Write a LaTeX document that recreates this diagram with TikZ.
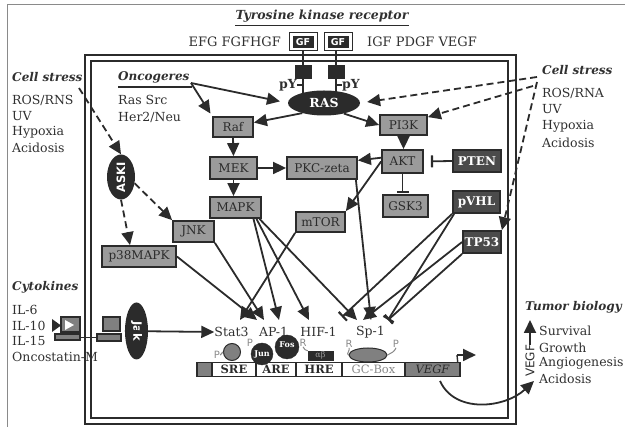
\documentclass[tikz,border=0pt]{standalone}
\usepackage{fontspec}
\setmainfont{DejaVu Serif}
\setsansfont{DejaVu Sans}
\usetikzlibrary{arrows.meta,shapes.geometric}
\definecolor{dk}{HTML}{2B2B2B}
\definecolor{lg}{HTML}{9B9B9B}
\definecolor{mg}{HTML}{808080}
\definecolor{tx}{HTML}{303030}
\definecolor{gt}{HTML}{8A8A8A}
\begin{document}
\begin{tikzpicture}[x=1pt,y=-1pt,
  every node/.style={inner sep=0pt,text=tx},
  lbox/.style={draw=dk,line width=1.8pt,fill=lg,font=\fontsize{12}{12}\selectfont,text=dk},
  dbox/.style={draw=dk,line width=1.8pt,fill=dk!85,font=\bfseries\fontsize{12}{12}\selectfont,text=white},
  arr/.style={draw=dk,line width=1.8pt,-{Triangle[length=13pt,width=12pt]}},
  darr/.style={arr,dash pattern=on 7pt off 4pt},
  inh/.style={draw=dk,line width=1.8pt,-{Bar[width=12pt,line width=2.2pt]}},
  hd/.style={font=\bfseries\itshape\fontsize{12}{12}\selectfont,anchor=west},
  lab/.style={font=\fontsize{12.5}{12.5}\selectfont,anchor=west},
  tf/.style={font=\fontsize{12.5}{12.5}\selectfont},
  pr/.style={font=\sffamily\fontsize{10}{10}\selectfont,text=gt},
  seg/.style={draw=dk,line width=1.4pt,minimum height=14pt,font=\bfseries\fontsize{11.5}{11.5}\selectfont,text=dk},
  blob/.style={fill=dk,draw=dk},
]
\useasboundingbox (0,0) rectangle (625,427);
% outer border
\draw[gt,line width=0.8pt] (7,427) -- (7,4) -- (625,4);
% double frame
\draw[dk,line width=1.8pt] (85,55) rectangle (516,424);
\draw[dk,line width=1.8pt] (91,61) rectangle (508,418);

% title
\node[font=\bfseries\itshape\fontsize{12.5}{12.5}\selectfont] (title) at (322,16) {Tyrosine kinase receptor};
\draw[dk,line width=1.2pt] (title.south west) ++(0,3) -- ([yshift=-3pt]title.south east);
\node[lab,font=\fontsize{13}{13}\selectfont,anchor=east] (gfl) at (281,42) {EFG FGFHGF};
\node[lab,font=\fontsize{13}{13}\selectfont] (gfr) at (367,42) {IGF PDGF VEGF};

% GF receptors
\node[draw=dk,line width=1pt,minimum width=28pt,minimum height=18pt] (gf1o) at (303,42) {};
\node[fill=dk,minimum width=21pt,minimum height=12pt,font=\sffamily\bfseries\fontsize{9.5}{9.5}\selectfont,text=white] (gf1) at (303,42) {GF};
\node[draw=dk,line width=1pt,minimum width=28pt,minimum height=18pt] (gf2o) at (338,42) {};
\node[fill=dk,minimum width=21pt,minimum height=12pt,font=\sffamily\bfseries\fontsize{9.5}{9.5}\selectfont,text=white] (gf2) at (338,42) {GF};
\node[fill=dk,minimum width=17pt,minimum height=14pt] (rec1) at (303,72) {};
\node[fill=dk,minimum width=17pt,minimum height=14pt] (rec2) at (336,72) {};
\draw[dk,line width=1.8pt] (gf1o.south) -- (gf1o.south |- rec1.north);
\draw[dk,line width=1.8pt] (gf2o.south -| rec2.north) -- (rec2.north);

% RAS
\node[ellipse,fill=dk,minimum width=72pt,minimum height=25pt,font=\bfseries\fontsize{12.5}{12.5}\selectfont,text=white] (ras) at (324,103) {RAS};
\coordinate (r1b) at (303,93);
\coordinate (r2b) at (336,92);
\draw[dk,line width=1.8pt] (rec1.south) -- (r1b);
\draw[dk,line width=1.8pt] (rec2.south) -- (r2b);
\draw[dk,line width=1.6pt] (297,85) -- (303,85);
\draw[dk,line width=1.6pt] (336,85) -- (342,85);
\node[font=\bfseries\fontsize{12.5}{12.5}\selectfont,anchor=east] (py1) at (297,85) {pY};
\node[font=\bfseries\fontsize{12.5}{12.5}\selectfont,anchor=west] (py2) at (342,85) {pY};

% Oncogenes
\node[hd] (onc) at (118,77) {Oncogeres};
\draw[dk,line width=1.8pt] (118,87) -- (192,87);
\node[lab] (onc1) at (118,100) {Ras Src};
\node[lab] (onc2) at (118,117) {Her2/Neu};
\coordinate (oncs) at (191,83);

% left cell stress
\node[hd] (csl) at (12,77) {Cell stress};
\node[lab] (csl1) at (12,100) {ROS/RNS};
\node[lab] (csl2) at (12,116) {UV};
\node[lab] (csl3) at (12,132) {Hypoxia};
\node[lab] (csl4) at (12,148) {Acidosis};
\coordinate (csls) at (79,88);

% right cell stress
\node[hd] (csr) at (542,70) {Cell stress};
\node[lab] (csr1) at (542,93) {ROS/RNA};
\node[lab] (csr2) at (542,109) {UV};
\node[lab] (csr3) at (542,126) {Hypoxia};
\node[lab] (csr4) at (542,143) {Acidosis};
\coordinate (crs1) at (537,77);
\coordinate (crs2) at (533,86);
\coordinate (crs3) at (537,82);

% boxes
\node[lbox,minimum width=40pt,minimum height=20pt] (raf) at (233,127) {Raf};
\node[lbox,minimum width=47pt,minimum height=22pt] (mek) at (233.5,168) {MEK};
\node[lbox,minimum width=70pt,minimum height=22pt] (pkc) at (322,168) {PKC-zeta};
\node[lbox,minimum width=51pt,minimum height=21pt] (mapk) at (235.5,207.5) {MAPK};
\node[lbox,minimum width=49pt,minimum height=20pt] (mtor) at (320.5,222) {mTOR};
\node[lbox,minimum width=41pt,minimum height=21pt] (jnk) at (193.5,231.5) {JNK};
\node[lbox,minimum width=74pt,minimum height=21pt] (p38) at (139,256.5) {p38MAPK};
\node[lbox,minimum width=47pt,minimum height=20pt] (pi3k) at (403.5,125) {PI3K};
\node[lbox,minimum width=41pt,minimum height=23pt] (akt) at (402.5,161.5) {AKT};
\node[lbox,minimum width=45pt,minimum height=22pt] (gsk3) at (405.5,206) {GSK3};
\node[dbox,minimum width=48pt,minimum height=22pt] (pten) at (477,161) {PTEN};
\node[dbox,minimum width=47pt,minimum height=22pt] (pvhl) at (476.5,202) {pVHL};
\node[dbox,minimum width=38pt,minimum height=22pt] (tp53) at (482,242) {TP53};

% ellipses
\node[ellipse,fill=dk,rotate=90,minimum width=45pt,minimum height=28pt,font=\sffamily\bfseries\fontsize{11.5}{11.5}\selectfont,text=white] (aski) at (121,177) {ASKI};
\node[ellipse,fill=dk,rotate=-90,minimum width=57pt,minimum height=23pt,font=\sffamily\bfseries\fontsize{11.5}{11.5}\selectfont,text=white] (jak) at (136.5,331) {Jak};

% connectors upper part
\draw[arr,shorten >=8pt] (oncs) -- (ras.west);
\draw[arr,shorten >=3pt] (oncs) -- (raf.north west);
\draw[arr] (ras.205) -- (raf.12);
\draw[arr] (ras.-28) -- (pi3k.west);
\draw[arr] (raf.south) -- (mek.north);
\draw[arr] (mek.south) -- (mek.south |- mapk.north);
\draw[arr] (mek.east) -- (pkc.west);
\draw[arr] (pi3k.south) -- (pi3k.south |- akt.north);
\draw[arr] (akt.170) -- (pkc.12);
\draw[arr] (akt.west) -- (mtor.north east);
\draw[inh,shorten >=7pt] (pten.west) -- (akt.east);
\draw[inh,shorten >=1pt] (akt.south) -- (akt.south |- gsk3.north);

% dashed stress arrows
\draw[darr] (csls) -- (aski.east);
\draw[darr] (aski.-115) -- (jnk.north west);
\draw[darr] (aski.west) -- ([xshift=-9pt]p38.north);
\draw[darr,shorten >=7pt] (crs1) -- (ras.east);
\draw[darr] (crs2) -- (pi3k.18);
\draw[darr] (crs3) -- (tp53.north east);

% transcription factors
\node[tf] (stat3) at (231.5,332) {Stat3};
\node[tf] (ap1) at (273.5,332) {AP-1};
\node[tf] (hif1) at (318.5,332) {HIF-1};
\node[tf] (sp1) at (370.5,332) {Sp-1};
\coordinate (tstat) at (240,320);
\coordinate (tap1a) at (257,320);
\coordinate (tap1b) at (264,320);
\coordinate (tap1c) at (279,320);
\coordinate (thif) at (309,320);
\coordinate (tsp1a) at (357,320);
\coordinate (tsp1b) at (363,320);
\coordinate (tsp1c) at (371,320);
\coordinate (bhif) at (342,317);
\coordinate (bsp1) at (388,320);

\draw[arr] (p38.east) -- (tap1a);
\draw[arr] (jnk.south east) -- (tap1b);
\draw[arr] (mtor.south west) -- (tstat);
\draw[arr] ([xshift=18pt]mapk.south) -- (tap1c);
\draw[arr] ([xshift=21pt]mapk.south) -- (thif);
\draw[arr] ([xshift=24pt]mapk.south) -- (tsp1a);
\draw[arr] ([xshift=-2pt]pkc.south east) -- (tsp1c);
\draw[inh] (pvhl.south west) -- (bhif);
\draw[inh] ([xshift=2pt]pvhl.south west) -- (bsp1);
\draw[arr] (tp53.west) -- (tsp1b);
\draw[inh] (tp53.south west) -- (bsp1);

% cytokines
\node[hd] (cyt) at (12,287) {Cytokines};
\node[lab] (il6) at (12,310) {IL-6};
\node[lab] (il10) at (12,326) {IL-10};
\node[lab] (il15) at (12,341) {IL-15};
\node[lab] (osm) at (12,357) {Oncostatin-M};
% receptor icon
\fill[dk] (52,319) -- (61,325.5) -- (52,332) -- cycle;
\draw[dk,line width=1.2pt,fill=mg] (61,317) rectangle (80,332);
\fill[white] (65,320) -- (74,325) -- (65,330) -- cycle;
\draw[dk,line width=1.2pt,fill=mg] (55,334) rectangle (80,340);
\draw[dk,line width=1.8pt] (80,337.5) -- (97,337.5);
\draw[dk,line width=1.2pt,fill=mg] (103,317) rectangle (120,331);
\draw[dk,line width=1.2pt,fill=mg] (97,334) rectangle (121,341);
\draw[arr] (jak.south) -- (stat3.west);

% promoter
\node[seg,fill=mg,minimum width=15pt] (s0) at (204.5,369.5) {};
\node[seg,fill=white,minimum width=44pt] (sre) at (234,369.5) {SRE};
\node[seg,fill=white,minimum width=40pt] (are) at (276,369.5) {ARE};
\node[seg,fill=white,minimum width=46pt] (hre) at (319,369.5) {HRE};
\node[seg,fill=white,minimum width=63pt,font=\fontsize{11.5}{11.5}\selectfont,text=gt] (gcbox) at (373.5,369.5) {GC-Box};
\node[seg,fill=mg,minimum width=55pt,font=\itshape\fontsize{11.5}{11.5}\selectfont,text=dk] (vegf) at (432.5,369.5) {VEGF};
\coordinate (tss) at (457,355);
\draw[dk,line width=1.4pt] (vegf.north east) ++(-3,0) -- (tss);
\draw[arr] (tss) -- (476,355);

% bound factors
\node[circle,fill=mg,draw=dk,line width=1pt,minimum size=17pt] (fstat) at (232,352) {};
\node[pr] (pst) at (217,355) {P};
\draw[gt,line width=1.2pt] (pst.east) -- (fstat.west);
\node[circle,blob,minimum size=22pt,font=\bfseries\fontsize{8}{8}\selectfont,text=white] (jun) at (262,354) {Jun};
\node[circle,blob,minimum size=24pt,font=\bfseries\fontsize{8}{8}\selectfont,text=white] (fos) at (287,347) {\raisebox{4pt}{Fos}};
\node[pr] (pjun) at (250,343) {P};
\node[blob,minimum width=25pt,minimum height=9pt,font=\fontsize{8}{8}\selectfont,text=lg] (ab) at (320.5,355.5) {αβ};
\node[pr] (rhif) at (303,343) {R};
\draw[gt,line width=1pt] (rhif.south) to[out=-60,in=180] (ab.north west);
\node[ellipse,fill=mg,draw=dk,line width=1pt,minimum width=38pt,minimum height=14pt] (fsp) at (368,355) {};
\node[pr] (rsp) at (349,344) {R};
\node[pr] (psp) at (396,344) {P};
\draw[gt,line width=1pt] (rsp.south) to[out=-60,in=160] (fsp.west);
\draw[gt,line width=1pt] (fsp.east) to[out=30,in=-110] (psp.south);

% tumor biology
\node[hd] (tb) at (525,307) {Tumor biology};
\node[lab] (tb1) at (539,331) {Survival};
\node[lab] (tb2) at (539,348) {Growth};
\node[lab] (tb3) at (539,363) {Angiogenesis};
\node[lab] (tb4) at (539,379) {Acidosis};
\node[rotate=90,font=\sffamily\fontsize{12}{12}\selectfont] (vegft) at (530,361) {VEGF};
\coordinate (uptip) at (530,320);
\draw[arr] (vegft.east) -- (uptip);
\coordinate (cvs) at (440,381);
\coordinate (cve) at (534,381);
\draw[arr] (cvs) .. controls (455,414) and (505,408) .. (cve);
\end{tikzpicture}
\end{document}
